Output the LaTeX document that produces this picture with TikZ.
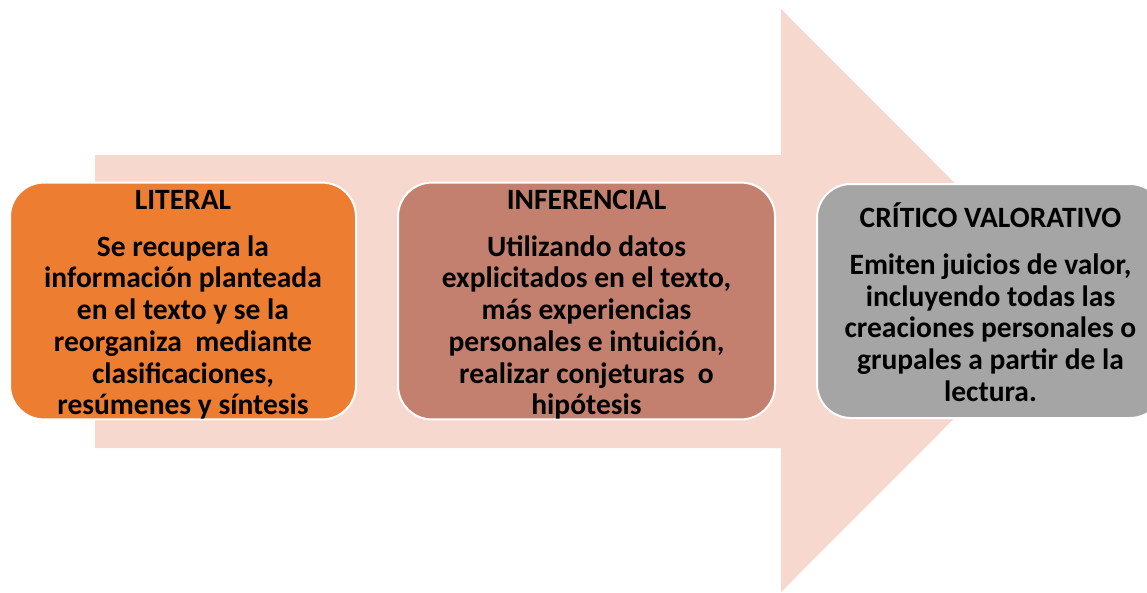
\documentclass[tikz,border=0pt]{standalone}
\usepackage{fontspec}
\setmainfont{Carlito}
\usetikzlibrary{positioning}
\definecolor{arrowpeach}{HTML}{F7D8CE}
\definecolor{literalorange}{HTML}{ED7D31}
\definecolor{inferbrown}{HTML}{C4806F}
\definecolor{criticgray}{HTML}{A5A5A5}
\newcommand{\headstrut}{\rule{0pt}{27pt}}

\begin{document}
\begin{tikzpicture}[x=1pt, y=-1pt,
    stage/.style={draw=white, line width=2pt, rounded corners=34pt, align=center,
      text=black, inner sep=0pt, minimum height=234pt,
      font=\fontsize{29.5}{31.7}\selectfont\bfseries}]
    \useasboundingbox (0,0) rectangle (1147,592);

    % big background arrow
    \fill[arrowpeach] (95,155) -- (781,155) -- (781,9) -- (1072,300.5)
      -- (781,592) -- (781,448) -- (95,448) -- cycle;

    \node[stage, fill=literalorange, minimum width=346pt] (literal) at (183,301)
      {\headstrut LITERAL\\[15pt] Se recupera la\\ información planteada\\ en el texto y se la\\
       reorganiza~ mediante\\ clasificaciones,\\ resúmenes y síntesis};
    \node[stage, fill=inferbrown, minimum width=377pt, right=40pt of literal] (inferencial)
      {\headstrut INFERENCIAL\\[15pt] Utilizando datos\\ explicitados en el texto,\\ más experiencias\\
       personales e intuición,\\ realizar conjeturas~ o\\ hipótesis};
    \node[stage, fill=criticgray, minimum width=347pt, right=40pt of inferencial] (critico)
      {\headstrut CRÍTICO VALORATIVO\\[15pt] Emiten juicios de valor,\\ incluyendo todas las\\
       creaciones personales o\\ grupales a partir de la\\ lectura.};
\end{tikzpicture}
\end{document}
